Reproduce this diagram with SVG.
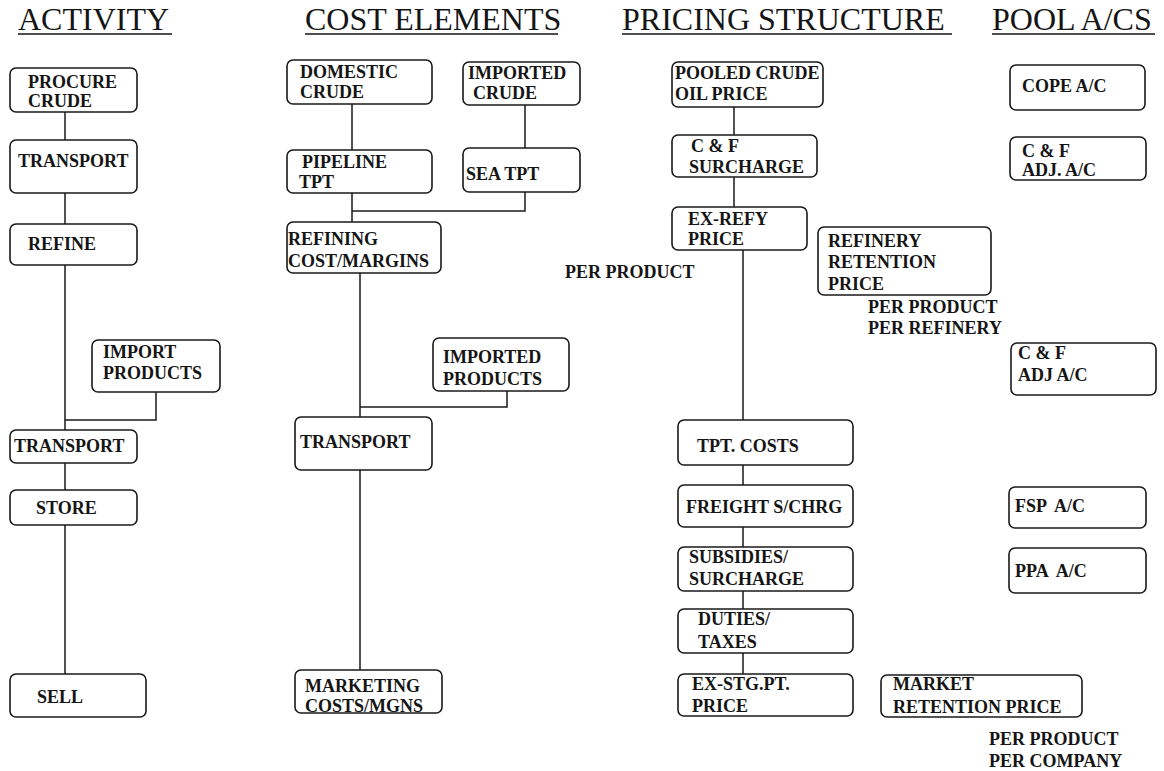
<svg xmlns="http://www.w3.org/2000/svg" width="1164" height="771" viewBox="0 0 1164 771">
<style>
.bg{fill:#fff}
.box{fill:#fff;stroke:#1a1a1a;stroke-width:1.6}
.t{font-family:"Liberation Serif","Times New Roman",serif;font-weight:bold;font-size:18px;fill:#151515;white-space:pre}
.h{font-family:"Liberation Serif","Times New Roman",serif;font-size:32px;fill:#151515}
.ul{stroke:#151515;stroke-width:1.6}
.c{fill:none;stroke:#1a1a1a;stroke-width:1.5}
</style>
<rect class="bg" x="0" y="0" width="1164" height="771"/>
<g id="titles">
<text class="h" x="18" y="30">ACTIVITY</text><line class="ul" x1="18" y1="34" x2="172" y2="34"/>
<text class="h" x="305" y="30">COST ELEMENTS</text><line class="ul" x1="305" y1="34" x2="558" y2="34"/>
<text class="h" x="622" y="30">PRICING STRUCTURE</text><line class="ul" x1="622" y1="34" x2="952" y2="34"/>
<text class="h" x="992" y="30">POOL A/CS</text><line class="ul" x1="992" y1="34" x2="1155" y2="34"/>
</g>
<g id="connectors">
<path class="c" d="M65 112V140M65 193V224M65 265V430M156 392V420H65M65 463V490M65 525V674"/>
<path class="c" d="M352 104V150M525 105V148M352 193V222M525 192V211H352M360 273V417M507 391V407H360M360 470V670"/>
<path class="c" d="M734 107V135M734 177V207M743 250V420M743 465V485M743 527V547M743 591V609M743 653V674"/>
</g>
<g id="procure"><rect class="box" x="10" y="68" width="127" height="44" rx="6"/><text class="t" x="28" y="88">PROCURE</text><text class="t" x="28" y="107">CRUDE</text></g>
<g id="transport1"><rect class="box" x="10" y="140" width="127" height="53" rx="6"/><text class="t" x="18" y="167">TRANSPORT</text></g>
<g id="refine"><rect class="box" x="10" y="224" width="127" height="41" rx="6"/><text class="t" x="28" y="250">REFINE</text></g>
<g id="importproducts"><rect class="box" x="92" y="340" width="128" height="52" rx="6"/><text class="t" x="103" y="358">IMPORT</text><text class="t" x="103" y="379">PRODUCTS</text></g>
<g id="transport2"><rect class="box" x="10" y="430" width="127" height="33" rx="6"/><text class="t" x="14" y="452">TRANSPORT</text></g>
<g id="store"><rect class="box" x="10" y="490" width="127" height="35" rx="6"/><text class="t" x="36" y="514">STORE</text></g>
<g id="sell"><rect class="box" x="10" y="674" width="136" height="43" rx="6"/><text class="t" x="37" y="703">SELL</text></g>

<g id="domestic"><rect class="box" x="287" y="60" width="145" height="44" rx="6"/><text class="t" x="300" y="78">DOMESTIC</text><text class="t" x="300" y="98">CRUDE</text></g>
<g id="importedcrude"><rect class="box" x="463" y="62" width="117" height="43" rx="6"/><text class="t" x="468" y="79">IMPORTED</text><text class="t" x="473" y="99">CRUDE</text></g>
<g id="pipeline"><rect class="box" x="287" y="150" width="145" height="43" rx="6"/><text class="t" x="302" y="168">PIPELINE</text><text class="t" x="299" y="188">TPT</text></g>
<g id="seatpt"><rect class="box" x="463" y="148" width="117" height="44" rx="6"/><text class="t" x="466" y="180">SEA TPT</text></g>
<g id="refining"><rect class="box" x="287" y="222" width="154" height="51" rx="6"/><text class="t" x="288" y="245">REFINING</text><text class="t" x="288" y="267">COST/MARGINS</text></g>
<g id="importedproducts"><rect class="box" x="433" y="338" width="136" height="53" rx="6"/><text class="t" x="443" y="363">IMPORTED</text><text class="t" x="443" y="385">PRODUCTS</text></g>
<g id="transport3"><rect class="box" x="295" y="417" width="137" height="53" rx="6"/><text class="t" x="300" y="448">TRANSPORT</text></g>
<g id="marketing"><rect class="box" x="295" y="670" width="147" height="43" rx="6"/><text class="t" x="305" y="692">MARKETING</text><text class="t" x="305" y="712">COSTS/MGNS</text></g>

<g id="pooled"><rect class="box" x="672" y="62" width="151" height="45" rx="6"/><text class="t" x="675" y="79">POOLED CRUDE</text><text class="t" x="675" y="100">OIL PRICE</text></g>
<g id="cfsurcharge"><rect class="box" x="672" y="135" width="145" height="42" rx="6"/><text class="t" x="691" y="152">C &amp; F</text><text class="t" x="689" y="173">SURCHARGE</text></g>
<g id="exrefy"><rect class="box" x="672" y="207" width="135" height="43" rx="6"/><text class="t" x="688" y="225">EX-REFY</text><text class="t" x="688" y="245">PRICE</text></g>
<g id="perproduct1"><text class="t" x="565" y="278">PER PRODUCT</text></g>
<g id="refinery"><rect class="box" x="818" y="227" width="173" height="68" rx="6"/><text class="t" x="828" y="247">REFINERY</text><text class="t" x="828" y="268">RETENTION</text><text class="t" x="828" y="290">PRICE</text></g>
<g id="perrefinery"><text class="t" x="868" y="313">PER PRODUCT</text><text class="t" x="868" y="334">PER REFINERY</text></g>
<g id="tptcosts"><rect class="box" x="678" y="420" width="175" height="45" rx="6"/><text class="t" x="697" y="452">TPT. COSTS</text></g>
<g id="freight"><rect class="box" x="678" y="485" width="175" height="42" rx="6"/><text class="t" x="686" y="513">FREIGHT S/CHRG</text></g>
<g id="subsidies"><rect class="box" x="678" y="547" width="175" height="44" rx="6"/><text class="t" x="689" y="563">SUBSIDIES/</text><text class="t" x="689" y="585">SURCHARGE</text></g>
<g id="duties"><rect class="box" x="678" y="609" width="175" height="44" rx="6"/><text class="t" x="698" y="625">DUTIES/</text><text class="t" x="698" y="648">TAXES</text></g>
<g id="exstg"><rect class="box" x="678" y="674" width="175" height="42" rx="6"/><text class="t" x="692" y="690">EX-STG.PT.</text><text class="t" x="692" y="712">PRICE</text></g>
<g id="marketretention"><rect class="box" x="881" y="675" width="201" height="42" rx="6"/><text class="t" x="893" y="690">MARKET</text><text class="t" x="893" y="713">RETENTION PRICE</text></g>
<g id="percompany"><text class="t" x="989" y="745">PER PRODUCT</text><text class="t" x="989" y="767">PER COMPANY</text></g>

<g id="cope"><rect class="box" x="1010" y="65" width="135" height="45" rx="6"/><text class="t" x="1022" y="92">COPE A/C</text></g>
<g id="cfadj1"><rect class="box" x="1010" y="137" width="136" height="43" rx="6"/><text class="t" x="1022" y="157">C &amp; F</text><text class="t" x="1022" y="176">ADJ. A/C</text></g>
<g id="cfadj2"><rect class="box" x="1011" y="343" width="145" height="52" rx="6"/><text class="t" x="1018" y="359">C &amp; F</text><text class="t" x="1018" y="381">ADJ A/C</text></g>
<g id="fsp"><rect class="box" x="1009" y="487" width="137" height="41" rx="6"/><text class="t" x="1015" y="512">FSP  A/C</text></g>
<g id="ppa"><rect class="box" x="1009" y="548" width="137" height="45" rx="6"/><text class="t" x="1015" y="577">PPA  A/C</text></g>
</svg>
